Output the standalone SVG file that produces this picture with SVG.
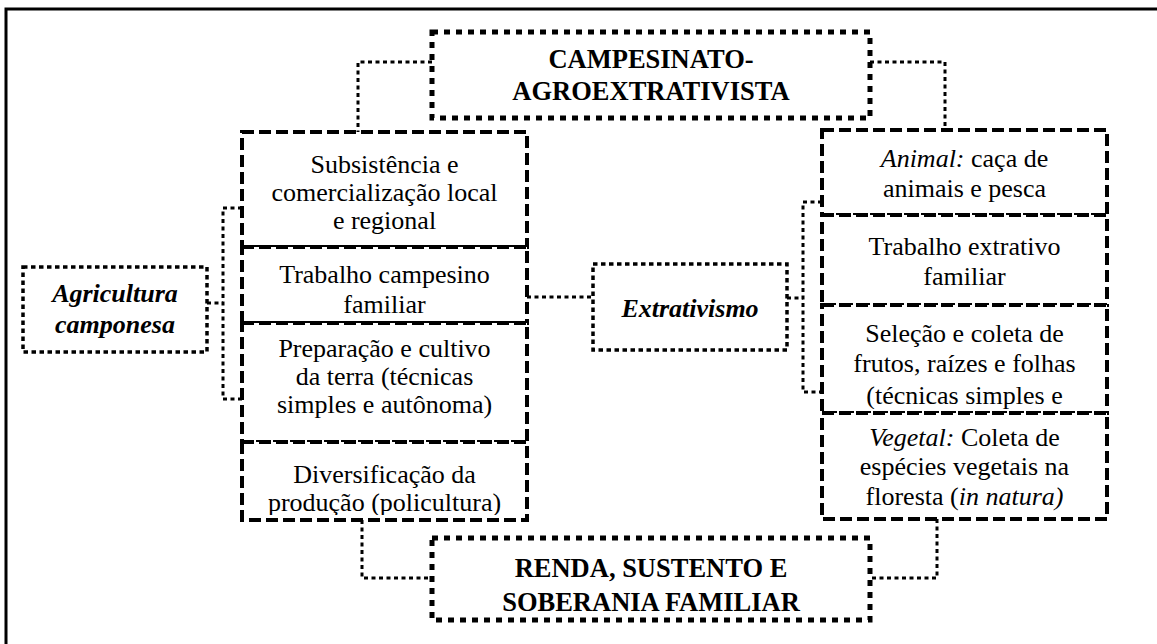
<svg xmlns="http://www.w3.org/2000/svg" width="1157" height="644" viewBox="0 0 1157 644">
<style>
.t{font-family:"Liberation Serif","Times New Roman",serif;font-size:26px;fill:#000;text-anchor:middle}
.tb{font-family:"Liberation Serif","Times New Roman",serif;font-size:26.5px;font-weight:bold;fill:#000;text-anchor:middle}
.tbi{font-family:"Liberation Serif","Times New Roman",serif;font-size:26px;font-weight:bold;font-style:italic;fill:#000;text-anchor:middle}
.i{font-style:italic}
.dash{fill:#fff;stroke:#000;stroke-width:4;stroke-dasharray:12 5}
.bigdot{fill:#fff;stroke:#000;stroke-width:5;stroke-dasharray:6 6}
.dot{fill:#fff;stroke:#000;stroke-width:3.5;stroke-dasharray:4.5 3.5}
.con{fill:none;stroke:#000;stroke-width:3;stroke-dasharray:4 3.5}
</style>
<defs>
<clipPath id="cL4"><rect x="246" y="446" width="277" height="69"/></clipPath>
<clipPath id="cR3"><rect x="826" y="309" width="277" height="100"/></clipPath>
<clipPath id="cR4"><rect x="826" y="417" width="277" height="94"/></clipPath>
</defs>
<rect x="6" y="9" width="1200" height="700" fill="none" stroke="#000" stroke-width="3"/>
<g id="connectors">
<path class="con" d="M432 62 H358 V132"/>
<path class="con" d="M870 62 H945 V130"/>
<path class="con" d="M242 208 H223 V399 H242"/>
<path class="con" d="M207 303 H223"/>
<path class="con" d="M527 297 H593"/>
<path class="con" d="M822 202 H803 V392 H822"/>
<path class="con" d="M787 298 H803"/>
<path class="con" d="M362 520 V578 H432"/>
<path class="con" d="M937 519 V578 H870"/>
</g>
<g id="campesinato">
<rect class="bigdot" x="432" y="32" width="438" height="86"/>
<text class="tb" x="651" y="68">CAMPESINATO-</text>
<text class="tb" x="651" y="100">AGROEXTRATIVISTA</text>
</g>
<g id="renda">
<rect class="bigdot" x="432" y="538" width="438" height="82"/>
<text class="tb" x="651" y="577">RENDA, SUSTENTO E</text>
<text class="tb" x="651" y="611">SOBERANIA FAMILIAR</text>
</g>
<g id="agricultura">
<rect class="dot" x="23" y="267" width="184" height="85"/>
<text class="tbi" x="115" y="302">Agricultura</text>
<text class="tbi" x="115" y="333">camponesa</text>
</g>
<g id="extrativismo">
<rect class="dot" x="593" y="264" width="194" height="86"/>
<text class="tbi" x="690" y="317">Extrativismo</text>
</g>
<g id="subsistencia">
<rect class="dash" x="242" y="132" width="285" height="115"/>
<text class="t" x="384.5" y="173">Subsistência e</text>
<text class="t" x="384.5" y="201">comercialização local</text>
<text class="t" x="384.5" y="229">e regional</text>
</g>
<g id="trabalho-campesino">
<rect class="dash" x="242" y="247" width="285" height="76"/>
<text class="t" x="384.5" y="283">Trabalho campesino</text>
<text class="t" x="384.5" y="313">familiar</text>
</g>
<g id="preparacao">
<rect class="dash" x="242" y="323" width="285" height="119"/>
<text class="t" x="384.5" y="357">Preparação e cultivo</text>
<text class="t" x="384.5" y="385">da terra (técnicas</text>
<text class="t" x="384.5" y="413">simples e autônoma)</text>
</g>
<g id="diversificacao">
<rect class="dash" x="242" y="442" width="285" height="78"/>
<g clip-path="url(#cL4)">
<text class="t" x="384.5" y="483">Diversificação da</text>
<text class="t" x="384.5" y="511">produção (policultura)</text>
</g>
</g>
<g id="animal">
<rect class="dash" x="822" y="130" width="285" height="85"/>
<text class="t" x="964.5" y="167"><tspan class="i">Animal:</tspan> caça de</text>
<text class="t" x="964.5" y="197">animais e pesca</text>
</g>
<g id="trabalho-extrativo">
<rect class="dash" x="822" y="215" width="285" height="90"/>
<text class="t" x="964.5" y="255">Trabalho extrativo</text>
<text class="t" x="964.5" y="285">familiar</text>
</g>
<g id="selecao">
<rect class="dash" x="822" y="305" width="285" height="108"/>
<g clip-path="url(#cR3)">
<text class="t" x="964.5" y="342">Seleção e coleta de</text>
<text class="t" x="964.5" y="372">frutos, raízes e folhas</text>
<text class="t" x="964.5" y="404">(técnicas simples e</text>
</g>
</g>
<g id="vegetal">
<rect class="dash" x="822" y="413" width="285" height="106"/>
<g clip-path="url(#cR4)">
<text class="t" x="964.5" y="446"><tspan class="i">Vegetal:</tspan> Coleta de</text>
<text class="t" x="964.5" y="475">espécies vegetais na</text>
<text class="t" x="964.5" y="505">floresta (<tspan class="i">in natura)</tspan></text>
</g>
</g>
</svg>
